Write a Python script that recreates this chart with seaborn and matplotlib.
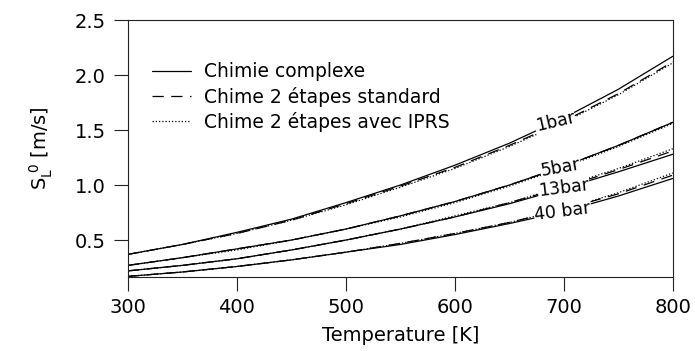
import matplotlib
matplotlib.use("Agg")
import matplotlib.pyplot as plt
from matplotlib.lines import Line2D
import seaborn as sns
import pandas as pd
import numpy as np

# temperatures [K]
temperature = [300, 350, 400, 450, 500, 550, 600, 650, 700, 750, 800]

# laminar flame speed S_L^0 [m/s], one list per pressure and chemistry
sl_1bar_complex = [0.37, 0.46, 0.57, 0.69, 0.84, 1.00, 1.18, 1.38, 1.61, 1.87, 2.17]
sl_1bar_std = [0.37, 0.46, 0.56, 0.68, 0.83, 0.99, 1.16, 1.36, 1.58, 1.83, 2.12]
sl_1bar_iprs = [0.37, 0.46, 0.56, 0.68, 0.82, 0.98, 1.15, 1.35, 1.57, 1.82, 2.11]

sl_5bar_complex = [0.27, 0.34, 0.42, 0.50, 0.60, 0.72, 0.85, 1.00, 1.17, 1.36, 1.57]
sl_5bar_std = [0.27, 0.34, 0.42, 0.50, 0.60, 0.72, 0.85, 1.00, 1.17, 1.36, 1.57]
sl_5bar_iprs = [0.27, 0.34, 0.41, 0.50, 0.60, 0.71, 0.84, 0.99, 1.16, 1.35, 1.56]

sl_13bar_complex = [0.22, 0.27, 0.33, 0.41, 0.50, 0.60, 0.71, 0.83, 0.97, 1.12, 1.28]
sl_13bar_std = [0.22, 0.27, 0.33, 0.41, 0.50, 0.60, 0.71, 0.84, 0.98, 1.14, 1.31]
sl_13bar_iprs = [0.22, 0.27, 0.33, 0.41, 0.50, 0.60, 0.72, 0.84, 0.99, 1.15, 1.33]

sl_40bar_complex = [0.17, 0.21, 0.26, 0.32, 0.39, 0.46, 0.55, 0.65, 0.76, 0.90, 1.06]
sl_40bar_std = [0.17, 0.21, 0.26, 0.32, 0.39, 0.47, 0.56, 0.66, 0.78, 0.92, 1.09]
sl_40bar_iprs = [0.17, 0.21, 0.26, 0.32, 0.39, 0.47, 0.56, 0.66, 0.78, 0.93, 1.11]

models = ["Chimie complexe", "Chime 2 étapes standard", "Chime 2 étapes avec IPRS"]
pressures = ["1bar", "5bar", "13bar", "40 bar"]
series = {
    "1bar": [sl_1bar_complex, sl_1bar_std, sl_1bar_iprs],
    "5bar": [sl_5bar_complex, sl_5bar_std, sl_5bar_iprs],
    "13bar": [sl_13bar_complex, sl_13bar_std, sl_13bar_iprs],
    "40 bar": [sl_40bar_complex, sl_40bar_std, sl_40bar_iprs],
}
# where the inline labels sit, and their tilt
label_temp = {"1bar": 692, "5bar": 697, "13bar": 700, "40 bar": 699}
label_angle = {"1bar": 13, "5bar": 10, "13bar": 7, "40 bar": 7}

rows = []
for p in pressures:
    for m, vals in zip(models, series[p]):
        for t, v in zip(temperature, vals):
            rows.append({"T": t, "SL": v, "model": m, "pressure": p})
df = pd.DataFrame(rows)

sns.set_style("ticks")
plt.rcParams["font.family"] = ["DejaVu Sans"]
plt.rcParams["mathtext.default"] = "regular"
plt.rcParams["text.color"] = "black"
plt.rcParams["axes.labelcolor"] = "black"
plt.rcParams["xtick.color"] = "black"
plt.rcParams["ytick.color"] = "black"

dash_std = (9, 6)
dash_iprs = (1, 1.6)
dashes = {models[0]: "", models[1]: dash_std, models[2]: dash_iprs}

fig = plt.figure(figsize=(6.95, 3.51), dpi=100)
ax = fig.add_axes([0.184, 0.211, 0.784, 0.732])

sns.lineplot(data=df, x="T", y="SL", style="model", units="pressure",
             estimator=None, dashes=dashes, color="black", lw=0.9,
             legend=False, ax=ax)

ax.set_xlim(300, 800)
ax.set_ylim(0.165, 2.5)
ax.set_xticks([300, 400, 500, 600, 700, 800])
ax.set_yticks([0.5, 1.0, 1.5, 2.0, 2.5])
ax.set_yticklabels(["0.5", "1.0", "1.5", "2.0", "2.5"])
ax.tick_params(direction="out", length=10, width=0.8, labelsize=14, color="#222222")
ax.tick_params(axis="y", pad=6)
ax.tick_params(axis="x", pad=5)
for s in ax.spines.values():
    s.set_linewidth(0.8)
    s.set_color("#222222")

ax.set_xlabel("Temperature [K]", fontsize=14, labelpad=7)
ax.set_ylabel("$S_L^{\\ 0}$ [m/s]", fontsize=14, labelpad=14)

# inline pressure labels on the complex-chemistry curve
for p in pressures:
    t0 = label_temp[p]
    y0 = np.interp(t0, temperature, series[p][0])
    ax.text(t0, y0, p, rotation=label_angle[p], rotation_mode="anchor",
            ha="center", va="center", fontsize=12.5,
            bbox=dict(facecolor="white", edgecolor="none", pad=0.5))

handles = [Line2D([], [], color="black", lw=0.9, linestyle="-"),
           Line2D([], [], color="black", lw=0.9, dashes=dash_std),
           Line2D([], [], color="black", lw=0.9, dashes=dash_iprs)]
ax.legend(handles, models, loc="upper left", bbox_to_anchor=(0.044, 0.835),
          frameon=False, fontsize=13.5, borderpad=0, borderaxespad=0,
          handlelength=2.1, handletextpad=0.7, labelspacing=0.28)

fig.savefig("out.png", dpi=100, facecolor="white")
